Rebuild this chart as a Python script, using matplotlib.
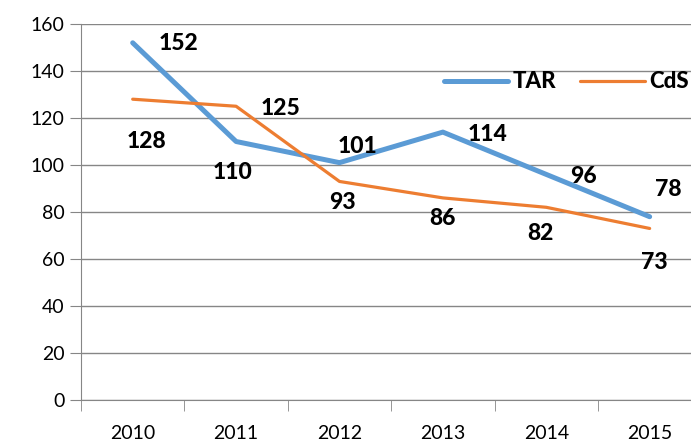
import numpy as np
import matplotlib.pyplot as plt
from matplotlib.ticker import FixedLocator

years = ['2010', '2011', '2012', '2013', '2014', '2015']
tar = [152, 110, 101, 114, 96, 78]
cds = [128, 125, 93, 86, 82, 73]

# label offsets in pixels (dx, dy), dy up
tar_off = [(46, -1), (-4, -31), (18, 16), (45, -2), (37, -2), (19, 27)]
cds_off = [(14, -42), (44, -2), (3, -21), (0, -21), (-6, -26), (5, -34)]

plt.rcParams['font.family'] = ['Lato', 'DejaVu Sans']

fig = plt.figure(figsize=(6.91, 4.42), dpi=100)
ax = fig.add_axes([81 / 691, 42 / 442, 1 - 81 / 691, 376 / 442])

x = np.arange(len(years))
ax.plot(x, tar, color='#5B9BD5', lw=3.6, solid_capstyle='round', label='TAR', zorder=3)
ax.plot(x, cds, color='#ED7D31', lw=2.3, solid_capstyle='round', label='CdS', zorder=3)

for i in range(len(years)):
    ax.annotate(str(tar[i]), (x[i], tar[i]), xytext=tar_off[i], textcoords='offset pixels',
                ha='center', va='center', fontsize=16.5, fontweight='black')
    ax.annotate(str(cds[i]), (x[i], cds[i]), xytext=cds_off[i], textcoords='offset pixels',
                ha='center', va='center', fontsize=16.5, fontweight='black')

ax.set_ylim(0, 160)
ax.set_yticks(range(0, 161, 20))
ax.set_xlim(-0.5, 5.4)
ax.set_xticks(x)
ax.set_xticklabels(years)
ax.xaxis.set_minor_locator(FixedLocator(np.arange(-0.5, 5.6, 1)))
ax.tick_params(axis='x', which='major', length=0, pad=18, labelsize=14)
ax.tick_params(axis='x', which='minor', length=8, color='#868686')
ax.tick_params(axis='y', length=8, color='#868686', labelsize=14, pad=4)

ax.grid(axis='y', color='#868686', lw=1)
ax.set_axisbelow(True)
for s in ['top', 'right']:
    ax.spines[s].set_visible(False)
ax.spines['left'].set_color('#868686')
ax.spines['bottom'].set_color('#868686')

leg = fig.legend(loc='center right', bbox_to_anchor=(689 / 691, 1 - 82 / 442), ncol=2,
                 frameon=False, handlelength=2.9, handletextpad=0.2, columnspacing=1.1,
                 borderpad=0, borderaxespad=0,
                 prop={'size': 16, 'weight': 'black'})

fig.savefig('out.png', dpi=100)
